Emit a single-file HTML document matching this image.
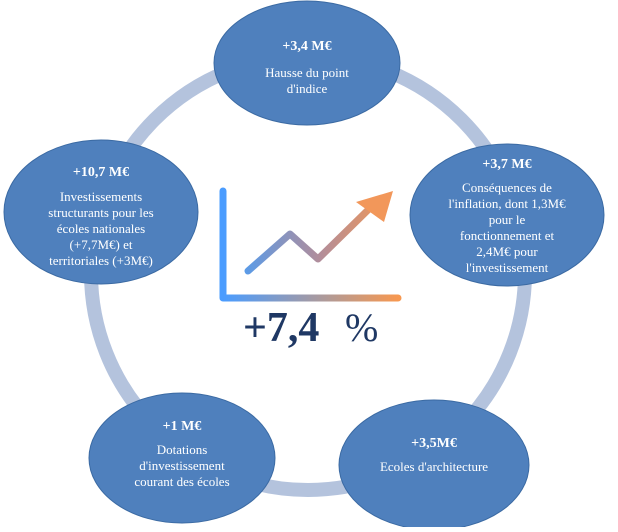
<!DOCTYPE html>
<html><head><meta charset="utf-8"><style>
body{margin:0;background:#fff;width:618px;height:527px;overflow:hidden}
text{font-family:"Liberation Serif",serif}
</style></head><body>
<svg width="618" height="527" viewBox="0 0 618 527">
<defs>
<linearGradient id="g" x1="0" x2="1" y1="0" y2="0"><stop offset="0" stop-color="#4a9cff"/><stop offset="1" stop-color="#f79850"/></linearGradient>
<linearGradient id="g2" gradientUnits="userSpaceOnUse" x1="245" x2="395" y1="0" y2="0"><stop offset="0" stop-color="#5a9be8"/><stop offset="0.5" stop-color="#b28d9a"/><stop offset="1" stop-color="#f79850"/></linearGradient>
</defs>
<circle cx="308" cy="273" r="217" fill="none" stroke="#b4c3dd" stroke-width="14"/>
<g fill="#4f80bd" stroke="#3b6aa3" stroke-width="1">
<ellipse cx="307" cy="63" rx="93" ry="62"/>
<ellipse cx="507" cy="215" rx="97" ry="71"/>
<ellipse cx="434" cy="465" rx="95" ry="65"/>
<ellipse cx="182" cy="458" rx="93" ry="65"/>
<ellipse cx="101" cy="212" rx="97" ry="72"/>
</g>
<g fill="#fff" text-anchor="middle" font-size="13">
<text x="307" y="50" font-weight="bold" font-size="14">+3,4 M€</text>
<text x="307" y="77">Hausse du point</text><text x="307" y="93">d'indice</text>
<text x="507" y="168" font-weight="bold" font-size="14">+3,7 M€</text>
<text x="507" y="192">Conséquences de</text><text x="507" y="208">l'inflation, dont 1,3M€</text>
<text x="507" y="224">pour le</text><text x="507" y="240">fonctionnement et</text>
<text x="507" y="256">2,4M€ pour</text><text x="507" y="272">l'investissement</text>
<text x="434" y="447" font-weight="bold" font-size="14">+3,5M€</text>
<text x="434" y="471">Ecoles d'architecture</text>
<text x="182" y="430" font-weight="bold" font-size="14">+1 M€</text>
<text x="182" y="454">Dotations</text><text x="182" y="470">d'investissement</text><text x="182" y="486">courant des écoles</text>
<text x="101" y="176" font-weight="bold" font-size="14">+10,7 M€</text>
<text x="101" y="201">Investissements</text><text x="101" y="217">structurants pour les</text>
<text x="101" y="233">écoles nationales</text><text x="101" y="249">(+7,7M€) et</text><text x="101" y="265">territoriales (+3M€)</text>
</g>
<path d="M223 191 V298 H398" fill="none" stroke="url(#g)" stroke-width="7" stroke-linecap="round" stroke-linejoin="round"/>
<path d="M248 271 L290 234 L318 259 L368 210" fill="none" stroke="url(#g2)" stroke-width="7" stroke-linecap="round" stroke-linejoin="round"/>
<polygon points="393,191 384,222 356,202" fill="#f2975a"/>
<text x="243" y="341" font-size="42" font-weight="bold" fill="#1f3864">+7,4</text>
<text x="345" y="341" font-size="40" fill="#1f3864">%</text>
</svg>
</body></html>
